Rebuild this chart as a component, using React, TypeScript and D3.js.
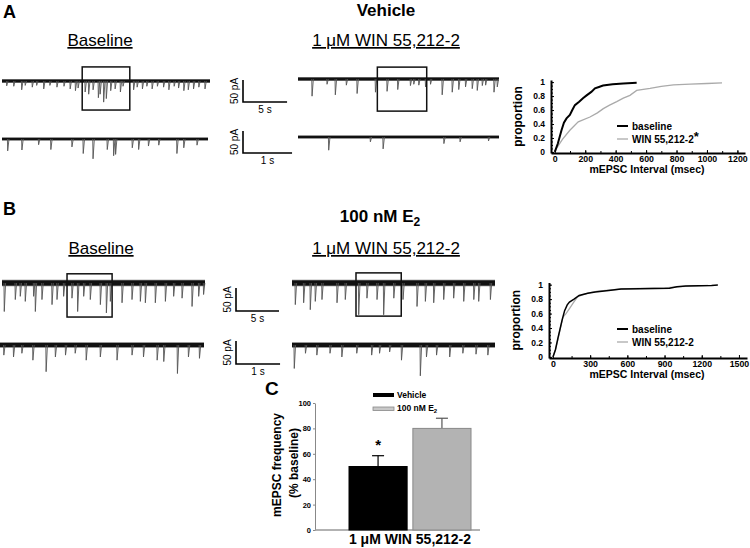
import React, { useEffect, useRef } from 'react';
import * as d3 from 'd3';

const FONT = 'Arial, "Liberation Sans", Helvetica, sans-serif';

// mEPSC events: [time (s), amplitude (pA)]
const vehBaselineSlow: [number, number][] = [
    [0.5, 11], [1.3, 12], [2.2, 20], [2.6, 10], [3.4, 14], [3.9, 10], [4.7, 18], [5.4, 10],
    [6.2, 14], [7.0, 12], [7.7, 18], [8.3, 22], [8.6, 16], [9.4, 25], [9.8, 30], [10.3, 20],
    [10.9, 38], [11.1, 30], [11.5, 48], [11.8, 40], [12.3, 22], [12.8, 18], [13.4, 25], [13.7, 12],
    [14.9, 20], [15.3, 14], [15.9, 18], [16.4, 12], [17.0, 18], [17.6, 12], [18.3, 14], [18.9, 20],
    [19.5, 12], [20.0, 16], [20.6, 22], [21.1, 20], [21.7, 18], [22.3, 14], [23.0, 18]
];
const vehBaselineFast: [number, number][] = [
    [0.11, 27], [0.40, 25], [0.74, 13], [0.99, 24], [1.42, 18], [1.65, 33], [1.85, 45], [2.14, 24],
    [2.27, 38], [2.31, 35], [2.65, 20], [2.78, 24], [2.98, 16], [3.19, 14], [3.56, 33], [3.70, 20], [3.97, 14]
];
const vehWinSlow: [number, number][] = [
    [1.56, 39], [3.26, 12], [4.2, 36], [5.45, 14], [6.67, 33], [8.75, 30], [10.07, 28], [11.28, 24],
    [12.72, 15], [13.1, 12], [13.67, 14], [14.43, 18], [15.0, 12], [16.32, 36], [17.46, 30], [18.2, 24],
    [18.97, 18], [19.73, 22], [20.3, 26], [20.87, 15], [21.25, 14], [22.2, 30], [22.57, 18]
];
const vehWinFast: [number, number][] = [
    [0.62, 30], [1.47, 11], [1.73, 27], [2.97, 15], [3.30, 11], [3.88, 9]
];
const e2BaselineSlow: [number, number][] = [
    [0.23, 62], [1.51, 36], [2.09, 29], [2.67, 40], [3.64, 29], [3.84, 62], [4.61, 36], [5.78, 47],
    [6.36, 36], [7.13, 29], [8.1, 33], [8.76, 62], [9.46, 29], [10.23, 36], [11.4, 47], [12.1, 65],
    [12.56, 40], [13.92, 43], [15.08, 36], [16.05, 40], [16.63, 43], [17.79, 43], [18.96, 40],
    [19.92, 29], [20.9, 33], [22.06, 51], [22.83, 29], [23.4, 25]
];
const e2BaselineFast: [number, number][] = [
    [0.08, 22], [0.3, 26], [0.49, 18], [0.74, 33], [1.04, 58], [1.25, 26], [1.48, 22], [1.7, 18],
    [1.95, 33], [2.27, 26], [2.65, 33], [2.99, 22], [3.25, 26], [3.56, 33], [3.71, 36], [4.02, 62],
    [4.27, 26], [4.52, 29]
];
const e2WinSlow: [number, number][] = [
    [0.35, 47], [1.32, 43], [2.09, 58], [2.67, 40], [3.45, 36], [5.2, 43], [6.16, 36], [7.72, 69],
    [8.68, 33], [9.85, 36], [10.62, 69], [11.8, 33], [12.87, 36], [14.5, 51], [15.47, 40], [16.44, 43],
    [17.6, 36], [18.76, 33], [19.93, 40], [21.1, 36], [21.67, 40], [23.03, 36]
];
const e2WinFast: [number, number][] = [
    [0.045, 51], [0.3, 18], [0.56, 22], [0.86, 18], [1.13, 26], [1.47, 18], [1.81, 22], [1.99, 18],
    [2.22, 15], [2.49, 33], [2.92, 67], [3.06, 26], [3.29, 22], [3.59, 26], [3.89, 18], [4.19, 20], [4.46, 22]
];

// zoomed windows marked on slow traces: [t start, t end, pA above, pA below]
const vehBaselineBox = [9.1, 14.5, -32, 66];
const vehWinBox = [9.0, 14.6, -27, 73];
const e2BaselineBox = [7.56, 12.8, -20, 74];
const e2WinBox = [7.44, 12.7, -22, 72];

// trace durations (s)
const slowDur = 23.6;
const vehWinSlowDur = 22.8;
const vehBaselineFastDur = 4.2;
const vehWinFastDur = 4.1;
const e2FastDur = 4.63;

const scaleBarPA = 50;
const scaleBarSlowS = 5;
const scaleBarFastS = 1;

// cumulative interval distributions: [interval (ms), proportion]
const vehCdfBaseline: [number, number][] = [
    [0, 0], [20, 0.12], [44, 0.31], [60, 0.42], [77, 0.48], [99, 0.53], [115, 0.6], [132, 0.67],
    [160, 0.72], [185, 0.77], [209, 0.81], [240, 0.86], [264, 0.91], [290, 0.93], [317, 0.95],
    [380, 0.97], [450, 0.98], [538, 0.99]
];
const vehCdfWin: [number, number][] = [
    [0, 0], [11, 0.05], [50, 0.18], [99, 0.31], [154, 0.43], [231, 0.5], [280, 0.56], [319, 0.62],
    [360, 0.67], [407, 0.72], [450, 0.77], [494, 0.81], [538, 0.88], [626, 0.91], [700, 0.94],
    [780, 0.96], [890, 0.97], [1000, 0.98], [1099, 0.99]
];
const e2CdfBaseline: [number, number][] = [
    [0, 0], [20, 0.1], [40, 0.26], [55, 0.37], [75, 0.52], [94, 0.64], [115, 0.72], [133, 0.76],
    [170, 0.8], [211, 0.85], [280, 0.88], [341, 0.9], [450, 0.92], [549, 0.94], [700, 0.945],
    [940, 0.95], [1000, 0.97], [1070, 0.98], [1279, 0.99], [1330, 0.995]
];
const e2CdfWin: [number, number][] = [
    [0, 0], [20, 0.1], [40, 0.24], [60, 0.4], [81, 0.55], [105, 0.6], [133, 0.67], [165, 0.75],
    [198, 0.83], [237, 0.86], [300, 0.89], [360, 0.91], [450, 0.925], [550, 0.94], [700, 0.95],
    [900, 0.955], [1000, 0.97], [1100, 0.98], [1250, 0.99]
];
const vehCdfTicks = [0, 200, 400, 600, 800, 1000, 1200];
const e2CdfTicks = [0, 300, 600, 900, 1200, 1500];
const proportionTicks = [0, 0.2, 0.4, 0.6, 0.8, 1];

// panel C
const groups = ['Vehicle', '100 nM E2'];
const freqMean = [50, 80];
const freqSem = [8.5, 8];
const freqTicks = [0, 20, 40, 60, 80, 100];

function txt(g: any, x: number, y: number, s: string, size: number, opts: any = {}) {
    return g.append('text')
        .attr('x', x).attr('y', y)
        .attr('font-family', FONT)
        .attr('font-size', size)
        .attr('font-weight', opts.bold ? 'bold' : 'normal')
        .attr('text-anchor', opts.anchor || 'start')
        .attr('fill', opts.fill || '#000')
        .text(s);
}

function drawTrace(svg: any, t: any) {
    const x = d3.scaleLinear().domain([0, t.dur]).range(t.x);
    const y = d3.scaleLinear().domain([0, scaleBarPA]).range([t.y, t.y + t.px50]);
    // noise band
    svg.append('line')
        .attr('x1', t.x[0]).attr('x2', t.x[1]).attr('y1', t.y).attr('y2', t.y)
        .attr('stroke', '#777').attr('stroke-width', t.noise + 1.5);
    svg.append('line')
        .attr('x1', t.x[0]).attr('x2', t.x[1]).attr('y1', t.y).attr('y2', t.y)
        .attr('stroke', '#111').attr('stroke-width', t.noise);
    svg.append('g').selectAll('path')
        .data(t.events)
        .enter()
        .append('path')
        .attr('d', (d: number[]) => `M${x(d[0])},${t.y}L${x(d[0]) + 0.3},${y(d[1])}L${x(d[0]) + 1.6},${t.y}`)
        .attr('fill', 'none')
        .attr('stroke', '#555')
        .attr('stroke-width', 0.9);
    if (t.box) {
        svg.append('rect')
            .attr('x', x(t.box[0])).attr('width', x(t.box[1]) - x(t.box[0]))
            .attr('y', y(t.box[2])).attr('height', y(t.box[3]) - y(t.box[2]))
            .attr('fill', 'none').attr('stroke', '#111').attr('stroke-width', 1.5);
    }
    return {x, y};
}

function drawScaleBar(svg: any, sc: any, seconds: number, bx: number, by: number, label: string) {
    const len = sc.x(seconds) - sc.x(0);
    const h = sc.y(scaleBarPA) - sc.y(0);
    svg.append('path')
        .attr('d', `M${bx},${by - h}V${by}H${bx + len}`)
        .attr('fill', 'none').attr('stroke', '#000').attr('stroke-width', 1.6);
    svg.append('text')
        .attr('transform', `translate(${bx - 5},${by - h / 2}) rotate(-90)`)
        .attr('font-family', FONT).attr('font-size', 10).attr('text-anchor', 'middle')
        .text('50 pA');
    txt(svg, bx + len / 2, by + 11, label, 10, {anchor: 'middle'});
}

function drawCdf(svg: any, o: any) {
    const x = d3.scaleLinear().domain(o.xDomain).range([o.left, o.right]);
    const y = d3.scaleLinear().domain([-0.015, 1.03]).range([o.bottom, o.top]);

    const minorY = svg.append('g').attr('transform', `translate(${o.left},0)`)
        .call(d3.axisLeft(y).tickValues(d3.range(0, 1.001, 0.05)).tickSize(-2));
    minorY.select('.domain').remove();
    minorY.selectAll('text').remove();
    const minorX = svg.append('g').attr('transform', `translate(0,${o.bottom})`)
        .call(d3.axisBottom(x).tickValues(o.minor).tickSize(-2));
    minorX.select('.domain').remove();
    minorX.selectAll('text').remove();

    const gx = svg.append('g').attr('transform', `translate(0,${o.bottom})`)
        .call(d3.axisBottom(x).tickValues(o.ticks).tickSize(-3).tickSizeOuter(0).tickPadding(3)
            .tickFormat(d3.format('d')));
    gx.select('.domain').attr('stroke-width', 2);
    gx.selectAll('text').attr('font-family', FONT).attr('font-size', 8.8).attr('font-weight', 'bold');

    const gy = svg.append('g').attr('transform', `translate(${o.left},0)`)
        .call(d3.axisLeft(y).tickValues(proportionTicks).tickSize(-3).tickSizeOuter(0).tickPadding(6)
            .tickFormat((d: any) => String(+(+d).toFixed(1))));
    gy.select('.domain').attr('stroke-width', 2);
    gy.selectAll('text').attr('font-family', FONT).attr('font-size', 8.5).attr('font-weight', 'bold');

    const line = d3.line<[number, number]>().x(d => x(d[0])).y(d => y(d[1]));
    svg.append('path').datum(o.win).attr('d', line)
        .attr('fill', 'none').attr('stroke', '#aaa').attr('stroke-width', 1.3);
    svg.append('path').datum(o.base).attr('d', line)
        .attr('fill', 'none').attr('stroke', '#000').attr('stroke-width', o.baseWidth);

    svg.append('text')
        .attr('transform', `translate(${o.left - 29},${(o.top + o.bottom) / 2}) rotate(-90)`)
        .attr('font-family', FONT).attr('font-size', 12).attr('font-weight', 'bold')
        .attr('text-anchor', 'middle').text('proportion');
    txt(svg, 647, o.bottom + 20, 'mEPSC Interval (msec)', 10.5, {bold: true, anchor: 'middle'});

    // legend
    svg.append('line').attr('x1', 617).attr('x2', 628).attr('y1', o.legY).attr('y2', o.legY)
        .attr('stroke', '#000').attr('stroke-width', 2);
    txt(svg, 632, o.legY + 3.5, 'baseline', 10, {bold: true});
    svg.append('line').attr('x1', 617).attr('x2', 628).attr('y1', o.legY + 13).attr('y2', o.legY + 13)
        .attr('stroke', '#aaa').attr('stroke-width', 1.3);
    const t = txt(svg, 632, o.legY + 16.5, 'WIN 55,212-2', 10, {bold: true});
    if (o.star) {
        t.append('tspan').attr('font-size', 13).attr('dy', -2).text('*');
    }
}

export default function App() {
    const svgRef = useRef<SVGSVGElement>(null);

    useEffect(() => {
        const svg = d3.select(svgRef.current);
        svg.selectAll('*').remove();

        // panel letters and headings
        txt(svg, 3, 18, 'A', 18, {bold: true});
        txt(svg, 386, 16, 'Vehicle', 17, {bold: true, anchor: 'middle'});
        txt(svg, 100, 46, 'Baseline', 17, {anchor: 'middle'}).attr('text-decoration', 'underline');
        txt(svg, 386, 46, '1 μM WIN 55,212-2', 17, {anchor: 'middle'}).attr('text-decoration', 'underline');

        txt(svg, 3, 215, 'B', 18, {bold: true});
        const e2 = txt(svg, 380, 222, '100 nM E', 17, {bold: true, anchor: 'middle'});
        e2.append('tspan').attr('font-size', 12).attr('dy', 4).text('2');
        txt(svg, 101, 254, 'Baseline', 17, {anchor: 'middle'}).attr('text-decoration', 'underline');
        txt(svg, 386, 254, '1 μM WIN 55,212-2', 17, {anchor: 'middle'}).attr('text-decoration', 'underline');

        // traces
        const aBaseTop = drawTrace(svg, {events: vehBaselineSlow, x: [2, 210], y: 81, dur: slowDur, px50: 22, noise: 2.5, box: vehBaselineBox});
        const aBaseBot = drawTrace(svg, {events: vehBaselineFast, x: [2, 208], y: 139, dur: vehBaselineFastDur, px50: 22, noise: 2});
        drawTrace(svg, {events: vehWinSlow, x: [298, 499], y: 79, dur: vehWinSlowDur, px50: 22, noise: 2.5, box: vehWinBox});
        drawTrace(svg, {events: vehWinFast, x: [298, 499], y: 137, dur: vehWinFastDur, px50: 22, noise: 2});

        const bBaseTop = drawTrace(svg, {events: e2BaselineSlow, x: [2, 205], y: 283, dur: slowDur, px50: 23, noise: 5, box: e2BaselineBox});
        const bBaseBot = drawTrace(svg, {events: e2BaselineFast, x: [0, 204], y: 345, dur: e2FastDur, px50: 23, noise: 4});
        drawTrace(svg, {events: e2WinSlow, x: [292, 495], y: 283, dur: slowDur, px50: 23, noise: 5, box: e2WinBox});
        drawTrace(svg, {events: e2WinFast, x: [292, 495], y: 345, dur: e2FastDur, px50: 23, noise: 4});

        drawScaleBar(svg, aBaseTop, scaleBarSlowS, 243, 102, '5 s');
        drawScaleBar(svg, aBaseBot, scaleBarFastS, 243, 153, '1 s');
        drawScaleBar(svg, bBaseTop, scaleBarSlowS, 236, 311, '5 s');
        drawScaleBar(svg, bBaseBot, scaleBarFastS, 236, 364, '1 s');

        // cumulative distributions
        drawCdf(svg, {
            xDomain: [-25, 1250], left: 551, right: 745, top: 80, bottom: 153,
            ticks: vehCdfTicks, minor: d3.range(100, 1250, 100),
            base: vehCdfBaseline, win: vehCdfWin, baseWidth: 2, legY: 126, star: true
        });
        drawCdf(svg, {
            xDomain: [-32, 1565], left: 549, right: 747, top: 282.5, bottom: 358,
            ticks: e2CdfTicks, minor: d3.range(150, 1500, 150),
            base: e2CdfBaseline, win: e2CdfWin, baseWidth: 1.5, legY: 329, star: false
        });

        // panel C
        txt(svg, 265, 395, 'C', 19, {bold: true});
        const yC = d3.scaleLinear().domain([0, 100]).range([530, 403]);
        const xC = d3.scaleBand().domain(groups).range([349, 471]).paddingInner(0.09);

        const gyC = svg.append('g').attr('transform', 'translate(315,0)')
            .call(d3.axisLeft(yC).tickValues(freqTicks).tickSize(2).tickSizeOuter(0).tickPadding(2));
        gyC.select('.domain').attr('stroke', '#888');
        gyC.selectAll('line').attr('stroke', '#888');
        gyC.selectAll('text').attr('font-family', FONT).attr('font-size', 7.5).attr('font-weight', 'bold');
        svg.append('line').attr('x1', 315).attr('x2', 480).attr('y1', 530).attr('y2', 530)
            .attr('stroke', '#999').attr('stroke-width', 1.5);

        groups.forEach((gname, i) => {
            const bx = xC(gname) as number;
            const cx = bx + xC.bandwidth() / 2;
            const ec = i === 0 ? '#000' : '#555';
            svg.append('line').attr('x1', cx).attr('x2', cx)
                .attr('y1', yC(freqMean[i])).attr('y2', yC(freqMean[i] + freqSem[i]))
                .attr('stroke', ec).attr('stroke-width', 1.2);
            svg.append('line').attr('x1', cx - 6).attr('x2', cx + 6)
                .attr('y1', yC(freqMean[i] + freqSem[i])).attr('y2', yC(freqMean[i] + freqSem[i]))
                .attr('stroke', ec).attr('stroke-width', 1.2);
            svg.append('rect')
                .attr('x', bx).attr('width', xC.bandwidth())
                .attr('y', yC(freqMean[i])).attr('height', yC(0) - yC(freqMean[i]))
                .attr('fill', i === 0 ? '#000' : '#b3b3b3')
                .attr('stroke', i === 0 ? '#000' : '#888').attr('stroke-width', 1);
        });
        const vx = (xC(groups[0]) as number) + xC.bandwidth() / 2;
        txt(svg, vx, yC(freqMean[0] + freqSem[0]) - 6, '*', 15, {bold: true, anchor: 'middle'});

        // legend
        svg.append('rect').attr('x', 373).attr('y', 393).attr('width', 21).attr('height', 4).attr('fill', '#000');
        txt(svg, 397, 398, 'Vehicle', 8.5, {bold: true});
        svg.append('rect').attr('x', 373).attr('y', 407).attr('width', 21).attr('height', 3.5)
            .attr('fill', '#c8c8c8').attr('stroke', '#888').attr('stroke-width', 0.8);
        const l2 = txt(svg, 397, 411, '100 nM E', 8.5, {bold: true});
        l2.append('tspan').attr('font-size', 6).attr('dy', 2).text('2');

        svg.append('text')
            .attr('transform', 'translate(281,465) rotate(-90)')
            .attr('font-family', FONT).attr('font-size', 12).attr('font-weight', 'bold')
            .attr('text-anchor', 'middle').text('mEPSC frequency');
        svg.append('text')
            .attr('transform', 'translate(298,463) rotate(-90)')
            .attr('font-family', FONT).attr('font-size', 12).attr('font-weight', 'bold')
            .attr('text-anchor', 'middle').text('(% baseline)');
        txt(svg, 410, 544, '1 μM WIN 55,212-2', 14, {bold: true, anchor: 'middle'});
    }, []);

    return (
        <svg ref={svgRef} width={750} height={548}
             style={{position: 'absolute', left: 0, top: 0, background: '#fff'}} />
    );
}
